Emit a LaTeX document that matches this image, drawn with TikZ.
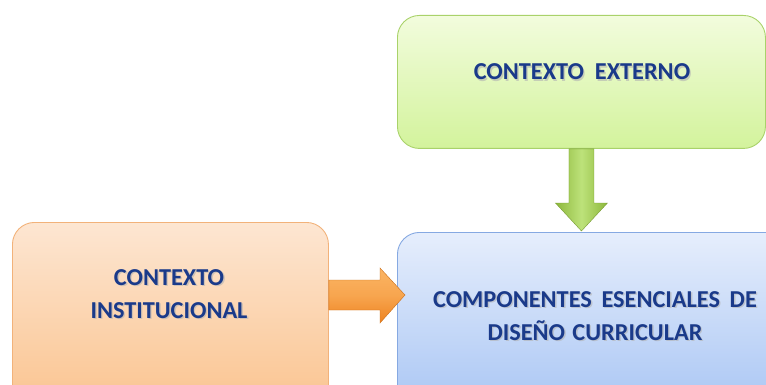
\documentclass[tikz,border=0pt]{standalone}
\usepackage{fontspec}
\setmainfont{Carlito}
\usetikzlibrary{calc}
\definecolor{txtblue}{HTML}{1A3A8A}
\definecolor{grnTop}{HTML}{F2FCDD}
\definecolor{grnBot}{HTML}{D3F39C}
\definecolor{grnLine}{HTML}{A9D26A}
\definecolor{orTop}{HTML}{FDE6D2}
\definecolor{orBot}{HTML}{FAC38E}
\definecolor{orLine}{HTML}{F2B27A}
\definecolor{blTop}{HTML}{E6EEFC}
\definecolor{blBot}{HTML}{A8C5F4}
\definecolor{blLine}{HTML}{86A9E2}
\definecolor{grnArrA}{HTML}{8DB83C}
\definecolor{grnArrB}{HTML}{BDE27A}
\definecolor{orArrA}{HTML}{EE8320}
\definecolor{orArrB}{HTML}{FBB463}
\tikzset{
  card/.style={rounded corners=22pt, line width=0.9pt, inner sep=0pt},
  label/.style={font=\fontsize{24.3}{33}\selectfont\bfseries, text=txtblue, align=center},
}
% text with a soft drop shadow
\newcommand{\shadowtext}[3]{%
  \node[label, text=black!30, opacity=0.6] at ($(#1)+(1.4,1.4)$) {#2};
  \node[label] (#3) at (#1) {#2};}
\begin{document}
\begin{tikzpicture}[x=1pt,y=-1pt]
\useasboundingbox (0,0) rectangle (766,385);
\clip (0,0) rectangle (766,385);

% boxes
\node[card, draw=grnLine, top color=grnTop, bottom color=grnBot,
      minimum width=368pt, minimum height=133pt, anchor=north west] (ext) at (397,15) {};
\node[card, draw=orLine, top color=orTop, bottom color=orBot,
      minimum width=316pt, minimum height=190pt, anchor=north west] (ins) at (12,222) {};
\node[card, draw=blLine, top color=blTop, bottom color=blBot,
      minimum width=396pt, minimum height=180pt, anchor=north west] (comp) at (397,232) {};

% texts
\coordinate (extc) at (582,72);
\coordinate (insc) at (169,294);
\coordinate (compc) at (595,316);
\shadowtext{extc}{CONTEXTO\hspace{0.45em}EXTERNO}{extt}
\shadowtext{insc}{CONTEXTO\\INSTITUCIONAL}{inst}
\shadowtext{compc}{COMPONENTES\hspace{0.4em}ESENCIALES\hspace{0.4em}DE\\DISEÑO\hspace{0.3em}CURRICULAR}{compt}

% block arrow: external context -> components
\coordinate (ga) at (ext.south);
\coordinate (gb) at (ga |- comp.north);
\shade[left color=grnArrA, right color=grnArrA, middle color=grnArrB, draw=grnArrA!85!black, line width=0.4pt]
  ($(ga)+(-12.5,0)$) -- ($(ga)+(12.5,0)$) -- ($(gb)+(12.5,-29)$) -- ($(gb)+(26,-29)$)
  -- ($(gb)+(0,-1)$) -- ($(gb)+(-26,-29)$) -- ($(gb)+(-12.5,-29)$) -- cycle;

% block arrow: institutional context -> components
\coordinate (oa) at (ins.east |- 0,295);
\coordinate (ob) at (comp.west |- 0,295);
\shade[top color=orArrB, bottom color=orArrA, middle color=orArrB!70!orArrA, draw=orArrA!85!black, line width=0.4pt]
  ($(oa)+(0,-15)$) -- ($(ob)+(-17,-15)$) -- ($(ob)+(-17,-27)$) -- ($(ob)+(8,0)$)
  -- ($(ob)+(-17,28)$) -- ($(ob)+(-17,15)$) -- ($(oa)+(0,15)$) -- cycle;
\end{tikzpicture}
\end{document}
